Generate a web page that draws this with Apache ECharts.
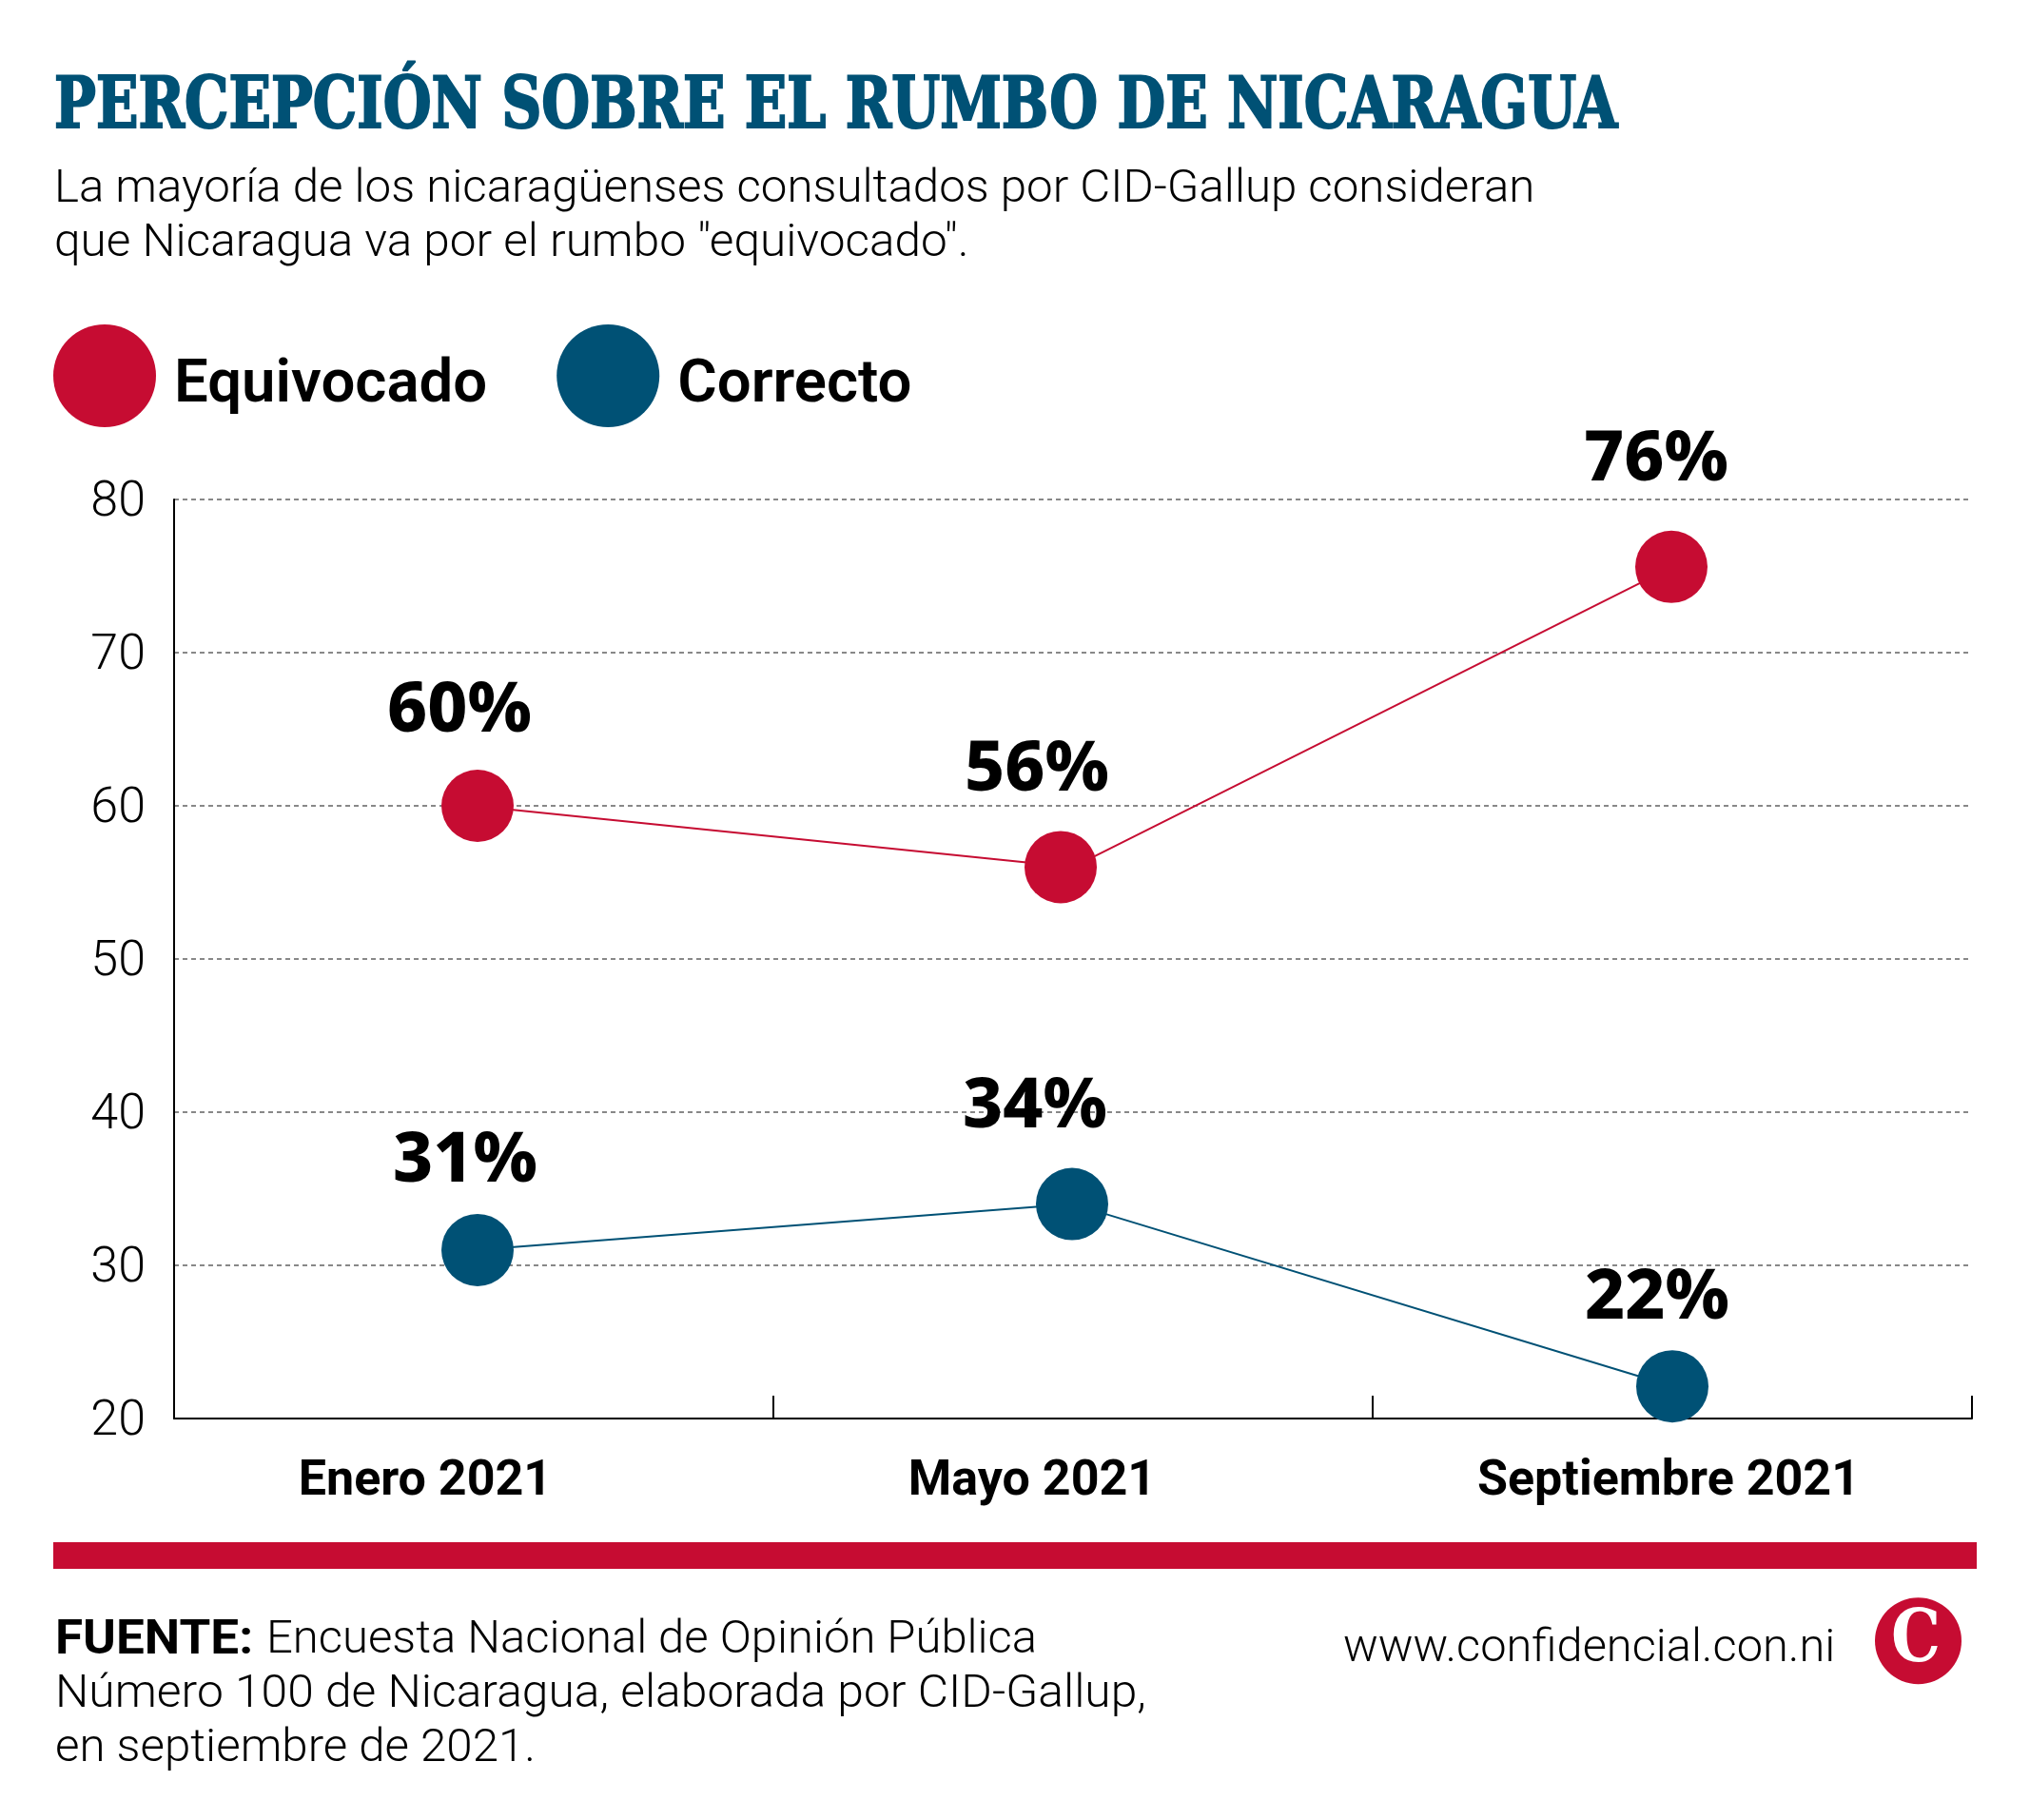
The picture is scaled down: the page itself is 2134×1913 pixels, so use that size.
<!DOCTYPE html>
<html>
<head>
<meta charset="utf-8">
<title>Percepción sobre el rumbo de Nicaragua</title>
<style>
    html, body { margin: 0; padding: 0; background: #fff; }
    #chart { width: 2134px; height: 1913px; }
</style>
<script src="https://cdn.jsdelivr.net/npm/echarts@6/dist/echarts.min.js"></script>
</head>
<body>
<div id="chart"></div>
<script>
var categories = ['Enero 2021', 'Mayo 2021', 'Septiembre 2021'];
var equivocado = [60, 56, 75.6];
var correcto = [31, 34, 22.1];
var equivocadoLabels = ['60%', '56%', '76%'];
var correctoLabels = ['31%', '34%', '22%'];
var yTicks = { min: 20, max: 80, interval: 10 };

var RED = '#c60c32';
var BLUE = '#005175';
var LIGHT = 'Roboto';

function txt(x, y, text, size, opt) {
    opt = opt || {};
    return {
        type: 'text',
        x: x,
        y: y,
        scaleX: opt.scaleX || 1,
        style: {
            text: text,
            fill: opt.fill || '#000',
            stroke: opt.stroke || null,
            lineWidth: opt.stroke ? 2 : 0,
            fontFamily: opt.family || LIGHT,
            fontWeight: opt.weight || 300,
            fontSize: size,
            verticalAlign: 'middle'
        }
    };
}

// marks are a little off the band centre in the original
function series(name, values, labels, color, markOff, labelOff, labelDy) {
    return {
        name: name,
        type: 'line',
        symbol: 'circle',
        symbolSize: 76,
        clip: false,
        lineStyle: { color: color, width: 2 },
        itemStyle: { color: color },
        data: values.map(function (v, i) {
            return {
                value: v,
                symbolOffset: [markOff[i], 0],
                label: {
                    show: true,
                    position: 'inside',
                    formatter: labels[i],
                    offset: [labelOff[i], labelDy[i]],
                    color: '#000',
                    fontFamily: 'Noto Sans',
                    fontWeight: 800,
                    fontSize: 73
                }
            };
        })
    };
}

var myChart = echarts.init(document.getElementById('chart'));
var option = {
    animation: false,
    backgroundColor: '#fff',
    legend: {
        left: 56,
        top: 341,
        padding: 0,
        itemWidth: 108,
        itemHeight: 108,
        itemGap: 73,
        icon: 'circle',
        formatter: '{a|{name}}',
        textStyle: {
            rich: {
                a: {
                    color: '#000',
                    fontFamily: 'Roboto',
                    fontWeight: 600,
                    fontSize: 63.5,
                    padding: [22, 0, 0, 14]
                }
            }
        },
        data: ['Equivocado', 'Correcto']
    },
    grid: { left: 183, right: 61, top: 525, height: 966 },
    xAxis: {
        type: 'category',
        boundaryGap: true,
        data: [
            { value: categories[0], textStyle: { padding: [0, 102, 0, 0] } },
            { value: categories[1], textStyle: { padding: [0, 86, 0, 0] } },
            { value: categories[2], textStyle: { padding: [0, 8, 0, 0] } }
        ],
        axisLine: { lineStyle: { color: '#000', width: 2 } },
        axisTick: { show: true, inside: true, length: 24, lineStyle: { color: '#000', width: 2 } },
        axisLabel: {
            margin: 41,
            color: '#000',
            fontFamily: 'Roboto',
            fontWeight: 700,
            fontSize: 52
        }
    },
    yAxis: {
        type: 'value',
        min: yTicks.min,
        max: yTicks.max,
        interval: yTicks.interval,
        axisLine: { show: true, lineStyle: { color: '#000', width: 2 } },
        axisTick: { show: false },
        axisLabel: {
            margin: 30,
            formatter: '{a|{value}}',
            rich: {
                a: {
                    color: '#000',
                    fontFamily: LIGHT,
                    fontWeight: 300,
                    fontSize: 52,
                    padding: [8, 0, 0, 0]
                }
            }
        },
        splitLine: { lineStyle: { color: '#888', width: 2, type: [5, 4] } }
    },
    series: [
        series('Equivocado', equivocado, equivocadoLabels, RED, [4, -13, -1], [-19, -25, -16], [-99, -101, -112]),
        series('Correcto', correcto, correctoLabels, BLUE, [4, -1, 0], [-13, -39, -16], [-93, -101, -92])
    ],
    graphic: [
        txt(57, 115, 'PERCEPCIÓN SOBRE EL RUMBO DE NICARAGUA', 74, { family: 'DejaVu Serif Condensed', weight: 700, fill: BLUE, stroke: BLUE, scaleX: 0.877 }),
        txt(57, 200, 'La mayoría de los nicaragüenses consultados por CID-Gallup consideran', 49, { scaleX: 1.005 }),
        txt(57, 257, 'que Nicaragua va por el rumbo "equivocado".', 49, { scaleX: 1.01 }),
        { type: 'rect', shape: { x: 56, y: 1621, width: 2022, height: 28 }, style: { fill: RED } },
        txt(58, 1725, 'FUENTE:', 50, { weight: 700, scaleX: 1.06 }),
        txt(280, 1725, 'Encuesta Nacional de Opinión Pública', 49),
        txt(58, 1782, 'Número 100 de Nicaragua, elaborada por CID-Gallup,', 49, { scaleX: 1.016 }),
        txt(58, 1839, 'en septiembre de 2021.', 49, { scaleX: 1.005 }),
        txt(1412, 1734, 'www.confidencial.con.ni', 49, { scaleX: 0.995 }),
        { type: 'circle', shape: { cx: 2016.5, cy: 1724.7, r: 45.5 }, style: { fill: RED } },
        txt(1988, 1726, 'C', 76, { family: 'DejaVu Serif', weight: 700, fill: '#fff', scaleX: 0.86 })
    ]
};
myChart.setOption(option);
</script>
</body>
</html>
